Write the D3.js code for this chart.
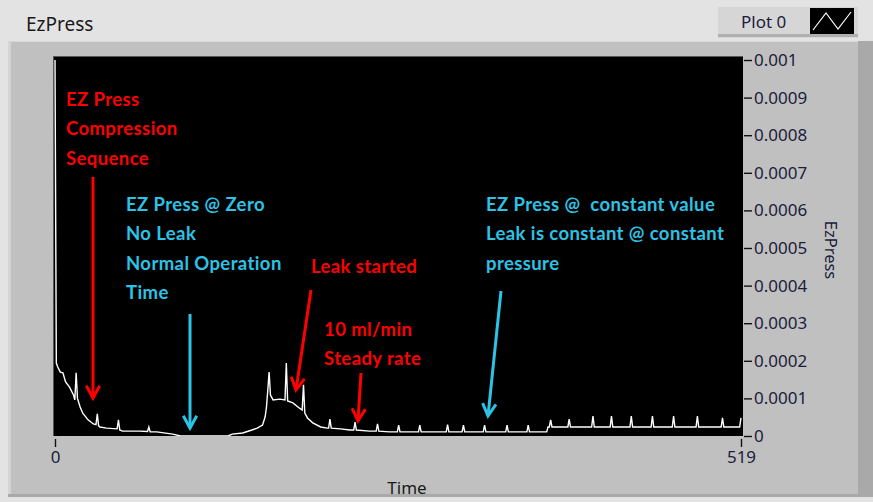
<!DOCTYPE html>
<html><head><meta charset="utf-8">
<script src="https://cdn.jsdelivr.net/npm/d3@7"></script>
<style>
html,body{margin:0;padding:0;background:#e3e3e3;}
svg{display:block;}
</style></head>
<body>
<svg id="c" width="873" height="502"></svg>
<script>
// ---- data ----
const time = [0,1,2,4,6,8,11,14,15,16,17,19,21,25,29,31,32,33,34,39,47,48,49,51,64,70,71,72,77,89,95,131,134,142,149,153,157,159,160,161,162,163,165,170,174,175,176,180,185,187,188,189,191,195,201,206,207,208,209,216,223,226,227,228,238,243,244,245,253,259,260,261,275,276,277,296,297,298,308,309,310,324,325,326,341,342,343,357,358,359,372,373,374,375,376,388,389,390,406,407,408,420,421,422,435,436,437,451,452,453,467,468,469,485,486,487,504,505,506,518,519];
const ezPress = [0.00100,0.000194,0.000184,0.000170,0.000168,0.000144,0.000130,0.000109,0.000096,0.000168,0.000100,0.000077,0.000061,0.000043,0.000032,0.000030,0.000059,0.000027,0.000024,0.000021,0.000019,0.000043,0.000016,0.000013,0.000013,0.000012,0.000024,0.000011,0.000011,0.000005,0.000000,0.000000,0.000005,0.000008,0.000016,0.000021,0.000029,0.000051,0.000077,0.000122,0.000170,0.000109,0.000096,0.000098,0.000096,0.000194,0.000093,0.000088,0.000074,0.000069,0.000136,0.000061,0.000048,0.000035,0.000024,0.000021,0.000021,0.000045,0.000021,0.000019,0.000016,0.000016,0.000037,0.000016,0.000013,0.000013,0.000032,0.000013,0.000011,0.000011,0.000029,0.000011,0.000011,0.000029,0.000011,0.000011,0.000030,0.000011,0.000011,0.000029,0.000011,0.000011,0.000029,0.000011,0.000011,0.000029,0.000011,0.000011,0.000029,0.000011,0.000011,0.000024,0.000024,0.000043,0.000024,0.000024,0.000045,0.000024,0.000024,0.000053,0.000024,0.000024,0.000053,0.000024,0.000024,0.000053,0.000024,0.000024,0.000053,0.000024,0.000024,0.000053,0.000024,0.000024,0.000053,0.000024,0.000024,0.000048,0.000024,0.000024,0.000048];
const yTicks = [0,0.0001,0.0002,0.0003,0.0004,0.0005,0.0006,0.0007,0.0008,0.0009,0.001];
const yTickLabels = ["0","0.0001","0.0002","0.0003","0.0004","0.0005","0.0006","0.0007","0.0008","0.0009","0.001"];
const xTicks = [0,519];
const title = "EzPress";
const legendLabel = "Plot 0";
const xLabel = "Time";
const yLabel = "EzPress";

const RED = "#ff0000", CYAN = "#2cc3e6";
const svg = d3.select("#c");

// frame
svg.append("rect").attr("x",0).attr("y",0).attr("width",873).attr("height",502).attr("fill","#e3e3e3");
svg.append("rect").attr("x",8).attr("y",41).attr("width",865).attr("height",456).attr("fill","#c0c0c0");
svg.append("line").attr("x1",8).attr("x2",873).attr("y1",41.5).attr("y2",41.5).attr("stroke","#d8d8d8");
svg.append("rect").attr("x",858).attr("y",41).attr("width",15).attr("height",456).attr("fill","#a9a9a9");
svg.append("rect").attr("x",8).attr("y",41).attr("width",3).attr("height",456).attr("fill","#d4d4d4");
svg.append("rect").attr("x",8).attr("y",494).attr("width",865).attr("height",3).attr("fill","#a9a9a9");

svg.append("text").attr("x",26).attr("y",31).attr("font-family","Noto Sans, sans-serif").attr("font-size",19).attr("fill","#1a1a1a").text(title);

// legend
svg.append("rect").attr("x",718).attr("y",7).attr("width",140).attr("height",31).attr("fill","#d6d6d6");
svg.append("rect").attr("x",718).attr("y",34).attr("width",140).attr("height",3).attr("fill","#b0b0b0");
svg.append("text").attr("x",741).attr("y",28).attr("font-family","Noto Sans, sans-serif").attr("font-size",17).attr("fill","#1c1c3c").text(legendLabel);
svg.append("rect").attr("x",810).attr("y",8).attr("width",44).attr("height",26).attr("fill","#000");
svg.append("path").attr("d","M813,30 L826,13 L838,29 L851,12").attr("fill","none").attr("stroke","#fff").attr("stroke-width",1.2);

// plot area
const px0=54, px1=743, py0=57, py1=436;
svg.append("rect").attr("x",px0-1).attr("y",py0-1).attr("width",px1-px0+1).attr("height",py1-py0+1).attr("fill","#555");
svg.append("rect").attr("x",px0).attr("y",py0).attr("width",px1-px0).attr("height",py1-py0).attr("fill","#000");

const x = d3.scaleLinear().domain([0,519]).range([55,741]);
const y = d3.scaleLinear().domain([0,0.001]).range([436,60]);

svg.append("clipPath").attr("id","clip").append("rect").attr("x",px0).attr("y",py0).attr("width",px1-px0).attr("height",py1-py0);

const line = d3.line().x((d,i)=>x(time[i])).y((d,i)=>y(ezPress[i]));
svg.append("path").datum(ezPress).attr("clip-path","url(#clip)").attr("d",line)
  .attr("fill","none").attr("stroke","#fff").attr("stroke-width",1.4).attr("stroke-linejoin","miter");

// y axis right
const yAxis = d3.axisRight(y).tickValues(yTicks).tickFormat((d,i)=>yTickLabels[i]).tickSize(8).tickPadding(2);
const gy = svg.append("g").attr("transform",`translate(${px1+1},0)`).call(yAxis);
gy.select(".domain").remove();
gy.selectAll("line").attr("stroke","#111").attr("stroke-width",1.4);
gy.selectAll("text").attr("font-family","Noto Sans, sans-serif").attr("font-size",17).attr("fill","#1c1c3c");

// x axis
const xAxis = d3.axisBottom(x).tickValues(xTicks).tickFormat(d3.format("d")).tickSize(8).tickPadding(4);
const gx = svg.append("g").attr("transform",`translate(0,${py1+3})`).call(xAxis);
gx.select(".domain").remove();
gx.selectAll("line").attr("stroke","#111").attr("stroke-width",1.4);
gx.selectAll("text").attr("font-family","Noto Sans, sans-serif").attr("font-size",17).attr("fill","#1c1c3c");

svg.append("text").attr("x",407).attr("y",494).attr("text-anchor","middle").attr("font-family","Noto Sans, sans-serif").attr("font-size",17).attr("fill","#1a1a1a").text(xLabel);
svg.append("text").attr("transform","translate(825,250) rotate(90)").attr("text-anchor","middle").attr("font-family","Noto Sans, sans-serif").attr("font-size",16.5).attr("fill","#1c1c3c").text(yLabel);

// annotations
function label(lines, x0, y0, color){
  const t = svg.append("text").attr("font-family","Lato, sans-serif").attr("font-weight","bold").attr("font-size",18.5)
    .attr("letter-spacing",0.4).attr("fill",color).style("white-space","pre");
  lines.forEach((s,i)=>t.append("tspan").attr("x",x0).attr("y",y0+i*29.3).text(s));
}
function arrow(x1,y1,x2,y2,color){
  const g = svg.append("g").attr("stroke",color).attr("stroke-width",3).attr("fill","none").attr("stroke-linecap","butt");
  g.append("line").attr("x1",x1).attr("y1",y1).attr("x2",x2).attr("y2",y2);
  const a = Math.atan2(y2-y1,x2-x1), L=14, w=0.5;
  const p1=[x2-L*Math.cos(a-w), y2-L*Math.sin(a-w)], p2=[x2-L*Math.cos(a+w), y2-L*Math.sin(a+w)];
  g.append("path").attr("d",`M${p1[0]},${p1[1]} L${x2},${y2} L${p2[0]},${p2[1]}`).attr("stroke-linejoin","miter");
}
label(["EZ Press","Compression","Sequence"],66,106,RED);
arrow(93,177,93,398,RED);
label(["EZ Press @ Zero","No Leak","Normal Operation","Time"],126,211,CYAN);
arrow(190,314,190,428,CYAN);
label(["Leak started"],311,273,RED);
arrow(311,290,296,390,RED);
label(["10 ml/min","Steady rate"],324,336,RED);
arrow(361,373,358,421,RED);
label(["EZ Press @  constant value","Leak is constant @ constant","pressure"],486,211,CYAN);
arrow(501,291,488,416,CYAN);
</script>
</body></html>
